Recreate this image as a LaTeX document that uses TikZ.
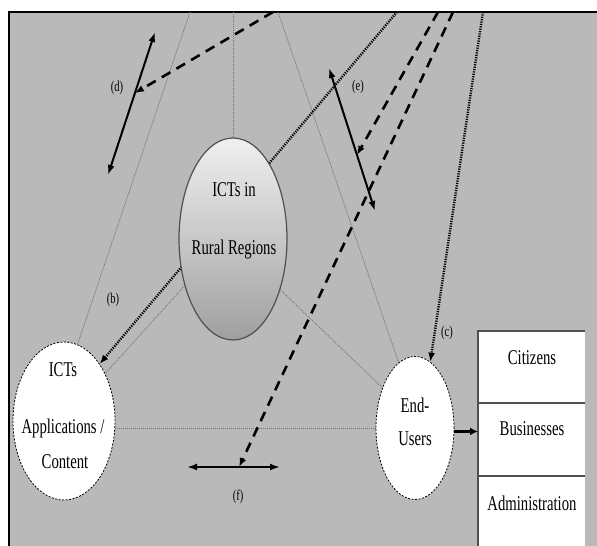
\documentclass[tikz,border=0pt]{standalone}
\usepackage{fontspec}
\setmainfont[FakeStretch=0.7]{Liberation Serif}
\usetikzlibrary{shapes.geometric,arrows.meta}
\pgfdeclarelayer{back}
\pgfdeclarelayer{lines}
\pgfsetlayers{back,lines,main}
\definecolor{bgray}{RGB}{185,185,185}
\definecolor{lgray}{RGB}{115,115,115}
\definecolor{edge}{RGB}{80,80,80}
\begin{document}
\begin{tikzpicture}[x=1pt,y=-1pt,
  txt/.style={font=\fontsize{21}{25}\selectfont, inner sep=0pt, anchor=base},
  lab/.style={font=\fontsize{15}{18}\selectfont, inner sep=0pt},
  gline/.style={lgray, line width=0.8pt, dash pattern=on 1pt off 1pt},
  bdot/.style={black, line width=2.4pt, dash pattern=on 1.2pt off 1.2pt, -{Latex[length=9pt,width=7pt]}},
  bdash/.style={black, line width=2.6pt, dash pattern=on 10pt off 7pt, -{Latex[length=9pt,width=7pt]}},
  dbl/.style={black, line width=2pt, {Latex[length=10pt,width=7pt]}-{Latex[length=10pt,width=7pt]}},
  wellipse/.style={ellipse, inner sep=0pt, draw=black, fill=white, line width=0.8pt, dash pattern=on 2pt off 1.5pt},
  cell/.style={rectangle, fill=white, inner sep=0pt, minimum width=107pt, anchor=north west},
  tabline/.style={line width=1.4pt, draw=edge},
]
\useasboundingbox (0,0) rectangle (597,546);

% nodes
\node[ellipse, minimum width=108pt, minimum height=202pt, inner sep=0pt, draw=edge, line width=1.2pt,
      top color=white!88!gray, middle color=white, bottom color=gray!75] (rural) at (233,239) {};
\node[wellipse, minimum width=102pt, minimum height=158pt] (apps) at (64,421) {};
\node[wellipse, minimum width=78pt, minimum height=143pt] (users) at (415,428) {};

\node[txt] (rt1) at (234,196) {ICTs in};
\node[txt] (rt2) at (234,254) {Rural Regions};
\node[txt] (at1) at (63,376) {ICTs};
\node[txt] (at2) at (63,433) {Applications /};
\node[txt] (at3) at (65,468) {Content};
\node[txt] (ut1) at (415,412) {End-};
\node[txt] (ut2) at (415,445) {Users};

\node[cell, minimum height=72pt] (cell1) at (478,331) {};
\node[cell, minimum height=73pt] (cell2) at (478,403) {};
\node[cell, minimum height=70pt] (cell3) at (478,476) {};
\node[txt] (ct1) at (532,364) {Citizens};
\node[txt] (ct2) at (532,435) {Businesses};
\node[txt] (ct3) at (532,510) {Administration};
\draw[tabline] (cell3.south west) -- (cell1.north west) -- (cell1.north east);
\draw[tabline] (cell2.north west) -- (cell2.north east);
\draw[tabline] (cell3.north west) -- (cell3.north east);

% labels
\node[lab] (lb) at (113,300) {(b)};
\node[lab] (lc) at (447,333) {(c)};
\node[lab] (ld) at (117,88) {(d)};
\node[lab] (le) at (358,87) {(e)};
\node[lab] (lf) at (238,497) {(f)};

% coordinates on top border
\coordinate (tg1) at (190,12);
\coordinate (tg2) at (233,12);
\coordinate (tg3) at (278,12);
\coordinate (tb) at (397,12);
\coordinate (tc) at (483,12);
\coordinate (td) at (273,12);
\coordinate (te) at (438,12);
\coordinate (tf) at (453,12);
\coordinate (d1) at (155,32);
\coordinate (d2) at (108,175);
\coordinate (e1) at (329,68);
\coordinate (e2) at (375,211);
\coordinate (f1) at (187,467);
\coordinate (f2) at (280,467);

\begin{pgfonlayer}{back}
  \fill[white] (0,0) rectangle (597,546);
  \fill[bgray] (9,12) rectangle (597,546);
  \draw[line width=1.5pt] (9,546) -- (9,12) -- (597,12);
\end{pgfonlayer}

\begin{pgfonlayer}{lines}
  % grey dotted triangle
  \draw[gline] (tg1) -- (apps.80);
  \draw[gline] (tg2) -- (rural.north);
  \draw[gline] (tg3) -- (users.104);
  \draw[gline] (rural.224) -- (apps.49);
  \draw[gline] (rural.-47) -- (users.129);
  \draw[gline] (users.west) -- (users.west -| apps.east);
  % double arrows
  \draw[dbl] (d1) -- coordinate[pos=0.427] (dm) (d2);
  \draw[dbl] (e1) -- coordinate[pos=0.608] (em) (e2);
  \draw[dbl] (f1) -- coordinate[pos=0.56] (fm) (f2);
  % dotted arrows
  \draw[bdot] (tb) -- (apps.58);
  \draw[bdot] (tc) -- (users.77);
  % dashed arrows
  \draw[bdash] (td) -- (dm);
  \draw[bdash] (te) -- (em);
  \draw[bdash] (tf) -- (fm);
\end{pgfonlayer}

\draw[black, line width=2.5pt, -{Latex[length=8pt,width=8pt]}] (users.-5) -- (users.-5 -| cell2.west);
\end{tikzpicture}
\end{document}
